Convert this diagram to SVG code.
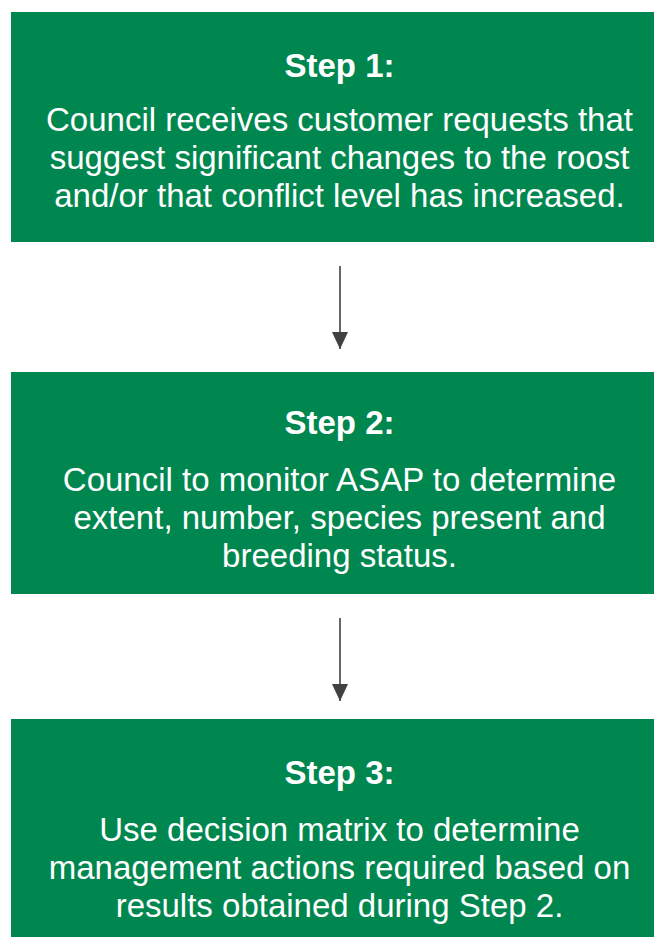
<svg xmlns="http://www.w3.org/2000/svg" width="654" height="937" viewBox="0 0 654 937">
<defs>
<style>
.box{fill:#00874f;}
.t{font-family:"Liberation Sans",Arial,sans-serif;fill:#ffffff;text-anchor:middle;}
.h{font-size:33px;font-weight:bold;}
.b{font-size:33px;}
.edge{stroke:#404040;stroke-width:1.6;fill:none;}
</style>
<marker id="arr" markerWidth="17" markerHeight="18" refX="18" refY="8.5" orient="auto" markerUnits="userSpaceOnUse" viewBox="0 0 18 17">
<path d="M0,0 L18,8.5 L0,17 Z" fill="#404040"/>
</marker>
</defs>
<rect width="654" height="937" fill="#ffffff"/>
<g id="step1">
<rect class="box" x="11" y="12" width="660" height="230"/>
<text class="t h" x="339.5" y="77">Step 1:</text>
<text class="t b" x="339.5" y="131">Council receives customer requests that</text>
<text class="t b" x="339.5" y="169">suggest significant changes to the roost</text>
<text class="t b" x="339.5" y="207">and/or that conflict level has increased.</text>
</g>
<g id="step2">
<rect class="box" x="11" y="372" width="660" height="222"/>
<text class="t h" x="339.5" y="434">Step 2:</text>
<text class="t b" x="339.5" y="491">Council to monitor ASAP to determine</text>
<text class="t b" x="339.5" y="529">extent, number, species present and</text>
<text class="t b" x="339.5" y="567">breeding status.</text>
</g>
<g id="step3">
<rect class="box" x="11" y="719" width="660" height="230"/>
<text class="t h" x="339.5" y="784">Step 3:</text>
<text class="t b" x="339.5" y="841">Use decision matrix to determine</text>
<text class="t b" x="339.5" y="879">management actions required based on</text>
<text class="t b" x="339.5" y="917">results obtained during Step 2.</text>
</g>
<g id="connectors">
<path class="edge" d="M340,266 L340,349" marker-end="url(#arr)"/>
<path class="edge" d="M340,618 L340,701" marker-end="url(#arr)"/>
</g>
</svg>
